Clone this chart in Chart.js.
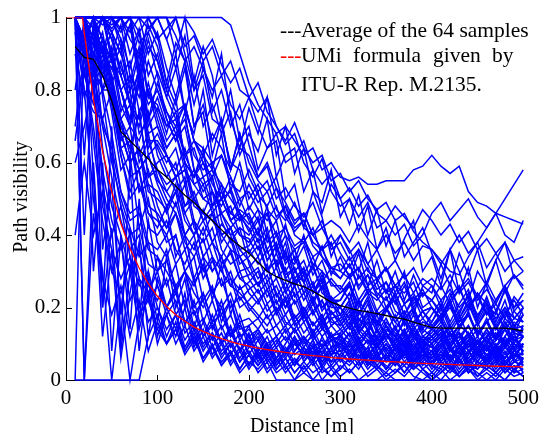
<!DOCTYPE html>
<html>
<head>
<meta charset="utf-8">
<script src="https://cdn.jsdelivr.net/npm/chart.js@4.4.1/dist/chart.umd.min.js"></script>
<style>
  html, body { margin: 0; padding: 0; background: #fff; }
  #wrap { width: 545px; height: 434px; position: relative; }
</style>
</head>
<body>
<div id="wrap"><canvas id="pv"></canvas></div>
<script>
// distances [m] and visibility values in percent (axis shows them as 0..1)
const distance = [10,20,30,40,50,60,70,80,90,100,110,120,130,140,150,160,170,180,190,200,
  210,220,230,240,250,260,270,280,290,300,310,320,330,340,350,360,370,380,390,400,
  410,420,430,440,450,460,470,480,490,500];

const avgVisibility = [92,89,88.5,84,77,68.5,66,63.5,61,58,56,53.5,51,49,46.5,44,41.5,39,37,35,
  32.5,30,28.5,27.5,26.5,25.8,24.5,23,21.5,20.5,19.8,19.2,18.8,18.3,17.8,17.2,16.8,16,15.2,14.5,
  14.3,14.3,14.3,14.3,14.3,14.3,14.3,14.3,14,13.5];

const ituDistance = [0,18,20,30,40,50,60,70,80,90,100,110,120,130,140,150,160,170,180,190,200,
  210,220,230,240,250,260,270,280,290,300,310,320,330,340,350,360,370,380,390,400,
  410,420,430,440,450,460,470,480,490,500];
const ituVisibility = [100,100,95.7,77.4,63.1,52,43.2,36.3,30.9,26.6,23.1,20.3,18,16.2,14.6,13.4,12.3,11.4,10.6,9.9,9.35,
  8.8,8.4,8,7.6,7.3,7,6.7,6.5,6.2,6,5.8,5.6,5.5,5.3,5.1,5,4.9,4.7,4.6,4.5,
  4.4,4.3,4.2,4.1,4,3.9,3.8,3.75,3.7,3.6];

// 64 measured samples
const sample01 = [100,100,100,100,100,100,100,100,100,100,100,100,100,100,100,100,100,98,90,82,76,72,68,70,66,62,64,58,60,56,55,56,54,54,55,55,55,58,59,62,59,57,59,52,49,48,46,45,44,43];
const sample02 = [100,100,100,98,100,100,96,100,100,94,97,100,92,95,88,92,84,88,80,78,82,74,70,66,71,64,60,62,55,57,52,55,50,47,49,44,46,41,38,36,33,30,29,34,38,42,46,50,54,58];
const sample03 = [100,100,100,100,97,100,100,93,96,100,100,95,88,92,86,80,84,76,72,78,70,64,68,60,62,66,58,54,57,50,53,48,51,46,44,48,45,42,47,44,40,43,38,41,36,39,35,38,33,30];
const sample04 = [100,100,100,100,100,100,100,100,97,100,100,100,100,96,90,94,87,82,86,78,74,78,70,65,68,60,56,61,52,48,50,45,49,42,44,40,43,37,40,46,49,44,47,50,45,42,46,40,38,44];
const sample05 = [100,100,100,100,100,97,100,86,100,95,82,93,88,76,86,78,90,72,64,75,68,78,62,70,57,64,52,49,58,45,50,41,48,36,42,33,39,44,30,34,26,36,24,31,20,27,33,24,29,25];
const sample06 = [100,100,100,100,100,100,100,100,100,100,100,90,100,82,92,84,70,80,66,70,58,64,66,50,54,42,52,45,34,40,36,30,38,27,31,24,30,18,26,24,32,26,35,29,36,26,33,38,28,30];
const sample07 = [100,100,97,100,96,90,98,82,92,88,78,86,74,84,70,76,68,74,62,68,63,72,56,62,64,52,58,46,54,50,43,51,40,47,37,44,34,38,42,35,28,36,30,22,30,26,19,25,17,20];
const sample08 = [100,100,100,100,100,100,100,96,100,100,94,86,95,80,88,74,80,70,76,65,56,60,53,49,44,46,40,36,38,30,28,31,24,22,25,19,17,20,14,12,14,10,12,8,10,7,9,6,10,8];
const sample09 = [100,92,100,86,88,94,80,84,76,80,74,70,76,66,62,68,64,58,64,62,56,59,50,53,48,45,49,42,44,42,38,43,39,36,40,35,38,33,37,36,32,36,40,35,38,31,35,30,33,34];
const sample10 = [100,100,100,100,98,100,90,97,84,90,80,90,74,68,80,62,72,58,68,60,55,52,56,46,42,44,37,34,30,28,32,26,29,24,22,26,21,24,19,20,17,22,25,20,23,18,22,26,20,22];
const sample11 = [100,100,90,96,82,88,76,86,70,75,70,74,62,66,60,56,62,54,52,58,52,55,47,44,49,42,40,44,36,38,33,36,30,28,31,26,24,27,20,22,18,21,16,18,13,16,11,14,9,12];
const sample12 = [100,100,100,100,100,100,100,100,90,96,86,78,88,70,76,66,72,58,68,56,51,48,53,45,41,44,38,36,40,35,31,36,32,28,31,26,29,24,28,26,22,25,20,23,18,21,17,20,15,18];
const sample13 = [100,100,94,84,92,80,72,84,68,70,64,68,60,56,62,54,50,56,48,54,49,52,45,48,43,46,40,42,37,40,35,38,32,36,30,33,28,31,26,28,25,29,24,27,22,25,21,26,20,24];
const sample14 = [100,100,100,90,100,94,86,96,78,85,78,72,76,66,64,60,62,56,50,52,47,44,48,40,36,38,32,30,27,24,26,21,24,18,20,16,19,14,17,14,12,15,10,13,9,12,8,11,7,10];
const sample15 = [100,100,100,100,96,100,94,90,98,92,82,76,86,70,74,58,68,52,60,50,54,47,44,48,40,38,42,34,31,30,34,28,31,25,27,23,27,21,24,22,26,21,25,28,23,27,22,26,29,26];
const sample16 = [100,94,100,80,90,76,70,82,62,65,60,64,54,58,50,48,52,46,44,48,44,46,40,42,37,39,34,36,31,32,29,31,26,28,24,26,21,23,19,20,17,20,15,18,13,16,12,15,11,14];
const sample17 = [100,100,100,100,100,100,100,100,100,100,94,100,90,80,84,72,70,60,58,47,52,40,44,33,36,27,32,24,22,20,15,22,13,18,11,15,9,13,8,10,12,6,10,5,8,4,9,5,7,6];
const sample18 = [100,100,100,90,96,84,76,86,72,78,70,72,62,64,56,58,50,52,44,46,40,48,35,40,30,33,26,30,22,22,27,18,23,16,20,22,15,19,13,16,21,15,19,23,16,21,14,19,15,18];
const sample19 = [100,88,96,80,80,70,64,74,56,60,62,56,58,50,54,46,50,44,47,45,40,46,36,43,33,40,31,37,29,34,28,35,26,33,24,30,22,29,23,26,20,27,18,24,17,23,16,22,14,20];
const sample20 = [100,100,100,100,94,86,80,90,72,82,74,68,72,62,58,60,52,46,50,44,38,42,31,36,26,29,22,26,17,18,22,14,18,10,14,12,7,11,6,8,11,5,9,13,8,12,6,10,14,12];
const sample21 = [100,100,92,100,88,84,76,70,80,74,66,70,62,56,60,52,48,53,46,43,47,38,41,34,32,37,29,33,26,26,22,29,24,27,20,24,18,23,17,20,16,21,14,19,12,17,11,16,10,15];
const sample22 = [100,100,100,94,88,80,70,82,64,68,62,58,64,54,50,52,46,42,45,42,36,40,32,38,28,31,24,27,20,20,24,16,21,14,19,23,16,20,14,18,22,16,21,25,17,22,15,20,17,20];
const sample23 = [100,100,100,100,100,96,100,86,96,88,80,74,76,66,62,58,54,50,46,41,45,35,38,29,31,24,27,20,22,16,20,13,17,11,15,10,14,8,12,10,13,8,11,15,10,14,9,12,16,14];
const sample24 = [100,92,86,94,80,72,62,74,56,58,54,56,48,50,46,44,46,40,42,40,44,36,40,32,36,29,34,27,31,28,32,25,29,23,27,21,26,20,24,22,19,24,17,22,15,20,14,19,13,18];
const sample25 = [100,100,100,90,86,92,76,72,82,72,64,68,58,54,56,48,50,44,40,39,34,40,31,35,27,30,24,28,21,22,26,18,22,15,20,14,18,12,16,15,11,15,9,13,8,12,7,11,6,10];
const sample26 = [100,100,100,100,90,98,84,78,88,80,72,66,70,58,54,56,46,48,40,38,42,33,37,28,31,24,27,20,23,18,22,15,19,13,17,12,16,11,15,14,18,13,17,21,15,19,14,18,22,18];
const sample27 = [100,100,86,94,84,72,66,58,62,55,52,56,46,50,44,46,40,42,36,37,41,33,37,30,34,27,31,25,28,25,29,22,26,19,23,17,21,15,19,16,20,14,18,12,16,10,15,9,13,12];
const sample28 = [100,100,94,100,90,80,72,84,66,66,62,56,58,48,46,44,40,42,34,36,32,36,28,31,23,26,19,22,16,15,19,13,16,11,15,12,9,14,10,12,15,10,14,18,12,16,11,15,19,16];
const sample29 = [100,100,100,100,96,90,82,92,78,76,68,78,60,56,64,48,54,44,46,35,39,30,33,25,30,27,21,26,18,20,24,17,14,19,15,11,17,13,9,12,15,10,13,8,11,9,6,10,12,8];
const sample30 = [100,94,84,92,78,68,60,64,52,50,47,54,44,40,47,38,43,40,32,34,37,30,35,28,26,31,24,29,22,24,27,20,25,23,19,24,18,22,25,20,17,23,26,19,24,21,18,25,19,22];
const sample31 = [100,100,100,90,86,80,70,66,74,62,56,60,48,52,44,48,38,42,36,33,28,31,24,20,26,18,22,15,19,16,12,17,14,10,13,9,12,7,11,9,6,10,13,8,5,9,6,4,8,7];
const sample32 = [100,100,100,100,100,92,98,84,94,84,72,66,74,58,52,56,44,38,42,32,26,29,21,25,17,20,15,18,12,14,17,11,14,9,13,10,7,12,8,10,13,9,6,11,14,10,13,9,15,12];
const sample33 = [100,100,88,84,80,70,64,58,62,54,48,52,46,40,44,38,34,39,30,31,34,27,31,24,28,22,26,19,23,20,17,22,18,15,20,16,13,18,12,14,17,11,15,13,10,14,11,16,13,12];
const sample34 = [100,100,100,100,94,84,88,74,80,70,62,56,60,50,46,52,40,36,34,30,26,32,23,27,21,24,18,22,15,17,21,14,19,16,13,18,12,16,19,15,18,22,16,20,24,18,21,17,23,20];
const sample35 = [100,94,86,80,84,68,60,64,48,46,42,49,40,36,42,34,30,36,28,29,31,25,28,22,26,19,23,17,21,18,14,19,15,12,16,13,10,14,11,12,9,13,10,7,11,8,12,9,6,10];
const sample36 = [100,100,100,90,90,80,84,68,72,64,58,52,56,44,40,46,36,32,34,28,24,27,19,22,16,19,13,17,11,12,15,9,13,8,11,7,10,5,9,8,11,6,9,12,7,10,6,12,8,10];
const sample37 = [100,90,82,90,76,62,50,54,46,44,40,46,38,34,39,30,34,28,25,27,30,23,26,20,24,17,21,16,19,15,18,13,16,11,15,12,16,13,10,14,17,12,15,18,13,16,19,14,17,16];
const sample38 = [100,100,94,90,82,72,76,60,66,58,52,48,54,42,38,42,32,35,28,26,22,25,19,23,17,20,15,18,12,13,16,11,14,9,12,10,14,9,12,11,14,9,13,10,8,12,15,10,14,13];
const sample39 = [100,88,80,72,80,62,52,58,42,40,44,36,32,38,28,33,26,30,22,25,27,21,24,18,22,16,19,14,17,14,11,15,12,9,13,8,11,7,10,9,12,8,6,10,7,5,9,6,10,8];
const sample40 = [100,100,86,94,82,68,60,64,54,52,46,52,40,44,34,38,30,26,30,24,21,25,18,22,15,18,13,16,11,12,15,10,13,9,12,14,10,15,11,13,16,12,15,18,13,16,12,17,14,15];
const sample41 = [100,94,100,84,80,66,70,52,58,48,42,46,36,40,30,34,26,28,20,22,25,19,22,16,14,18,12,15,9,10,13,8,11,7,10,6,9,5,8,7,10,6,9,4,8,6,10,7,11,9];
const sample42 = [100,92,80,84,82,64,56,58,46,42,48,34,40,28,34,22,32,18,26,20,17,21,15,18,13,16,11,14,12,11,9,13,10,14,8,11,13,9,12,10,13,9,12,15,10,13,9,14,11,12];
const sample43 = [100,100,100,94,88,74,80,62,68,56,50,46,40,44,34,30,34,26,24,21,18,15,19,13,16,11,14,9,12,9,7,11,8,6,9,5,8,4,7,6,9,5,8,3,7,5,9,6,10,8];
const sample44 = [100,84,76,80,68,52,46,48,38,36,40,32,36,27,31,24,28,20,23,19,22,17,20,15,18,13,16,12,15,12,10,14,11,9,13,10,8,12,9,11,14,10,13,9,12,8,11,14,9,10];
const sample45 = [100,90,80,88,74,58,62,42,50,38,34,40,30,26,32,24,20,24,16,17,14,18,12,15,10,12,9,11,7,8,10,6,9,5,7,4,8,5,7,6,9,5,8,11,7,10,6,9,12,9];
const sample46 = [96,80,74,72,62,48,40,42,32,30,33,26,30,24,20,25,18,22,14,15,17,13,15,11,14,10,12,9,11,10,8,11,7,10,6,9,7,10,6,8,5,8,10,6,9,5,8,4,7,7];
const sample47 = [100,100,90,86,78,64,66,52,54,45,38,40,30,34,22,26,16,22,12,14,11,14,9,12,7,9,6,8,5,6,4,7,3,6,4,2,5,3,6,4,2,5,1,4,3,6,2,5,3,5];
const sample48 = [90,78,86,70,64,52,44,46,36,34,30,25,30,20,24,16,18,12,15,12,14,10,12,8,10,7,9,5,8,7,5,8,4,6,3,6,4,7,3,5,7,3,6,2,5,4,7,3,5,6];
const sample49 = [0,0,0,0,0,0,0,0,12,18,10,16,8,13,6,10,4,8,3,7,2,5,0,0,0,4,0,0,0,0,0,0,0,0,0,0,0,0,3,0,0,0,0,0,0,0,0,0,0,0];
const sample50 = [100,0,60,20,42,8,30,14,24,10,18,12,20,9,14,7,11,5,9,4,8,3,6,2,5,3,6,2,4,1,3,0,2,4,1,3,1,4,2,0,2,4,1,3,0,2,0,3,1,2];
const sample51 = [70,90,66,44,30,38,22,28,16,20,12,18,9,14,8,12,6,10,5,8,4,7,3,6,2,5,8,4,7,3,6,9,5,3,6,4,7,3,5,2,5,3,6,2,4,3,5,2,4,3];
const sample52 = [100,100,80,58,44,36,40,28,24,30,20,24,16,19,12,15,10,13,8,11,7,10,6,9,5,8,4,7,3,6,2,5,8,4,7,10,6,9,5,8,4,7,3,6,9,5,8,4,7,5];
const sample53 = [40,60,40,52,30,24,32,18,22,14,18,10,15,8,12,6,10,4,8,3,7,2,5,8,4,9,5,12,7,10,6,9,4,7,3,6,2,5,8,4,7,3,6,2,5,3,6,2,5,4];
const sample54 = [100,100,94,70,56,44,36,40,26,22,28,18,22,14,17,11,15,9,13,7,11,6,9,4,8,12,7,10,5,9,13,8,11,6,10,7,11,5,9,4,8,5,9,6,3,6,9,4,7,6];
const sample55 = [100,80,50,30,0,22,0,16,28,12,20,14,24,10,16,9,13,7,11,4,9,5,8,3,6,2,5,0,3,0,0,0,0,0,2,0,0,0,0,0,3,0,2,5,1,4,2,0,3,1];
const sample56 = [100,100,100,78,60,50,42,34,38,26,20,25,16,19,12,16,10,14,8,12,6,10,5,8,4,7,11,6,9,5,8,4,7,3,6,9,5,8,4,7,11,6,9,5,8,4,7,3,6,2];
const sample57 = [60,70,82,54,40,48,34,26,30,20,14,18,11,15,9,13,7,10,5,9,12,7,10,14,8,11,6,9,13,8,5,9,4,7,3,6,10,5,8,4,3,6,2,5,8,4,2,5,3,6];
const sample58 = [100,0,46,28,18,26,12,22,8,16,10,14,7,11,6,9,5,8,3,7,4,8,3,6,2,5,2,4,1,3,6,3,7,4,2,5,2,6,3,1,4,2,5,3,1,3,1,4,2,3];
const sample59 = [100,100,88,64,48,40,30,36,22,26,18,22,13,16,10,13,8,11,6,10,5,9,4,7,12,8,5,9,4,7,11,6,9,14,8,5,9,4,7,3,6,10,5,8,4,7,3,6,9,4];
const sample60 = [66,86,70,48,36,28,34,20,24,14,10,14,8,12,5,9,4,7,2,5,3,6,2,4,0,2,0,3,1,4,2,5,1,3,0,2,4,1,0,2,0,3,1,4,2,0,2,0,3,1];
const sample61 = [100,40,90,20,70,10,60,16,44,30,36,24,30,18,22,14,20,12,16,9,13,8,11,6,10,7,11,5,9,13,8,12,6,10,5,9,13,7,11,6,10,6,9,12,7,11,7,10,5,8];
const sample62 = [80,100,30,60,8,40,14,50,22,34,26,32,20,28,16,22,14,18,11,15,8,12,6,10,14,9,13,7,11,6,10,5,8,12,7,4,8,3,6,10,5,9,4,7,11,6,10,5,8,12];
const sample63 = [0,100,56,12,36,6,24,38,12,28,20,26,15,22,12,18,10,15,8,13,6,10,4,8,12,5,9,3,7,11,6,10,4,8,3,7,11,5,9,4,8,3,7,10,5,9,4,8,2,6];
const sample64 = [100,62,100,36,54,18,42,8,30,16,34,20,28,14,24,16,22,12,18,10,14,9,12,7,11,6,10,4,8,12,7,11,5,9,13,8,12,6,10,5,9,13,7,11,6,10,5,9,13,7];

const samples = [sample01,sample02,sample03,sample04,sample05,sample06,sample07,sample08,
  sample09,sample10,sample11,sample12,sample13,sample14,sample15,sample16,
  sample17,sample18,sample19,sample20,sample21,sample22,sample23,sample24,
  sample25,sample26,sample27,sample28,sample29,sample30,sample31,sample32,
  sample33,sample34,sample35,sample36,sample37,sample38,sample39,sample40,
  sample41,sample42,sample43,sample44,sample45,sample46,sample47,sample48,
  sample49,sample50,sample51,sample52,sample53,sample54,sample55,sample56,
  sample57,sample58,sample59,sample60,sample61,sample62,sample63,sample64];

const xTicks = [0,100,200,300,400,500];
const yTickLabels = ['0','0.2','0.4','0.6','0.8','1'];

const legendLine1 = 'Average of the 64 samples';
const legendLine2 = ['UMi', 'formula', 'given', 'by'];
const legendLine3 = 'ITU-R Rep. M.2135.';

const SERIF = '"Liberation Serif", "Times New Roman", serif';
Chart.defaults.font.family = SERIF;
Chart.defaults.color = '#000';

function pairs(xs, ys) {
  return ys.map((v, i) => ({x: xs[i], y: v}));
}

var datasets = [];
// red and black curves sit on top of the sample cloud
datasets.push({
  label: 'UMi formula given by ITU-R Rep. M.2135.',
  data: pairs(ituDistance, ituVisibility),
  borderColor: '#ff0000', borderWidth: 1.3, pointRadius: 0, order: 0
});
datasets.push({
  label: 'Average of the 64 samples',
  data: pairs(distance, avgVisibility),
  borderColor: '#000000', borderWidth: 1.3, pointRadius: 0, order: 0
});
samples.forEach(function(s, i) {
  datasets.push({
    label: 'sample ' + (i + 1),
    data: pairs(distance, s),
    borderColor: '#0000ff', borderWidth: 1.5, pointRadius: 0, order: 1, clip: false
  });
});

// inward tick marks, axis titles and the text legend
const extras = {
  id: 'extras',
  afterDraw(chart) {
    const ctx = chart.ctx;
    const xs = chart.scales.x, ys = chart.scales.y;
    const area = chart.chartArea;
    ctx.save();
    ctx.strokeStyle = '#000';
    ctx.lineWidth = 1;
    ctx.beginPath();
    xTicks.forEach(function(t) {
      const px = Math.round(xs.getPixelForValue(t)) + 0.5;
      ctx.moveTo(px, area.bottom);
      ctx.lineTo(px, area.bottom - 5);
    });
    [0, 20, 40, 60, 80, 100].forEach(function(t) {
      const py = Math.round(ys.getPixelForValue(t)) + 0.5;
      ctx.moveTo(area.left, py);
      ctx.lineTo(area.left + 6, py);
    });
    ctx.stroke();

    ctx.fillStyle = '#000';
    ctx.font = '20px ' + SERIF;
    ctx.textAlign = 'center';
    ctx.textBaseline = 'alphabetic';
    ctx.fillText('Distance [m]', 302, 432);
    ctx.save();
    ctx.translate(27, 197);
    ctx.rotate(-Math.PI / 2);
    ctx.fillText('Path visibility', 0, 0);
    ctx.restore();

    ctx.font = '21.5px ' + SERIF;
    ctx.textAlign = 'left';
    ctx.fillText('---', 280, 37);
    ctx.fillText(legendLine1, 301, 37);
    ctx.fillStyle = '#ff0000';
    ctx.fillText('---', 280, 62);
    ctx.fillStyle = '#000';
    const wordX = [301, 353, 433, 492];
    legendLine2.forEach(function(w, i) { ctx.fillText(w, wordX[i], 62); });
    ctx.fillText(legendLine3, 301, 91);
    ctx.restore();
  }
};

new Chart(document.getElementById('pv'), {
  type: 'line',
  data: { datasets: datasets },
  options: {
    responsive: true,
    maintainAspectRatio: false,
    animation: false,
    elements: { line: { tension: 0 } },
    layout: { padding: { top: 16, right: 17, bottom: 0, left: 0 } },
    plugins: { legend: { display: false }, tooltip: { enabled: false } },
    scales: {
      x: {
        type: 'linear', min: 0, max: 500,
        grid: { display: false, drawTicks: false },
        border: { display: true, color: '#000', width: 1 },
        ticks: { stepSize: 100, padding: 6, font: { size: 21 }, color: '#000', maxRotation: 0 },
        afterFit: function(s) { s.height = 54; }
      },
      y: {
        min: 0, max: 100,
        grid: { display: false, drawTicks: false },
        border: { display: true, color: '#000', width: 1 },
        ticks: { stepSize: 20, padding: 5, font: { size: 21 }, color: '#000',
          callback: function(v, i) { return yTickLabels[i]; } },
        afterFit: function(s) { s.width = 66; }
      }
    }
  },
  plugins: [extras]
});
</script>
</body>
</html>
